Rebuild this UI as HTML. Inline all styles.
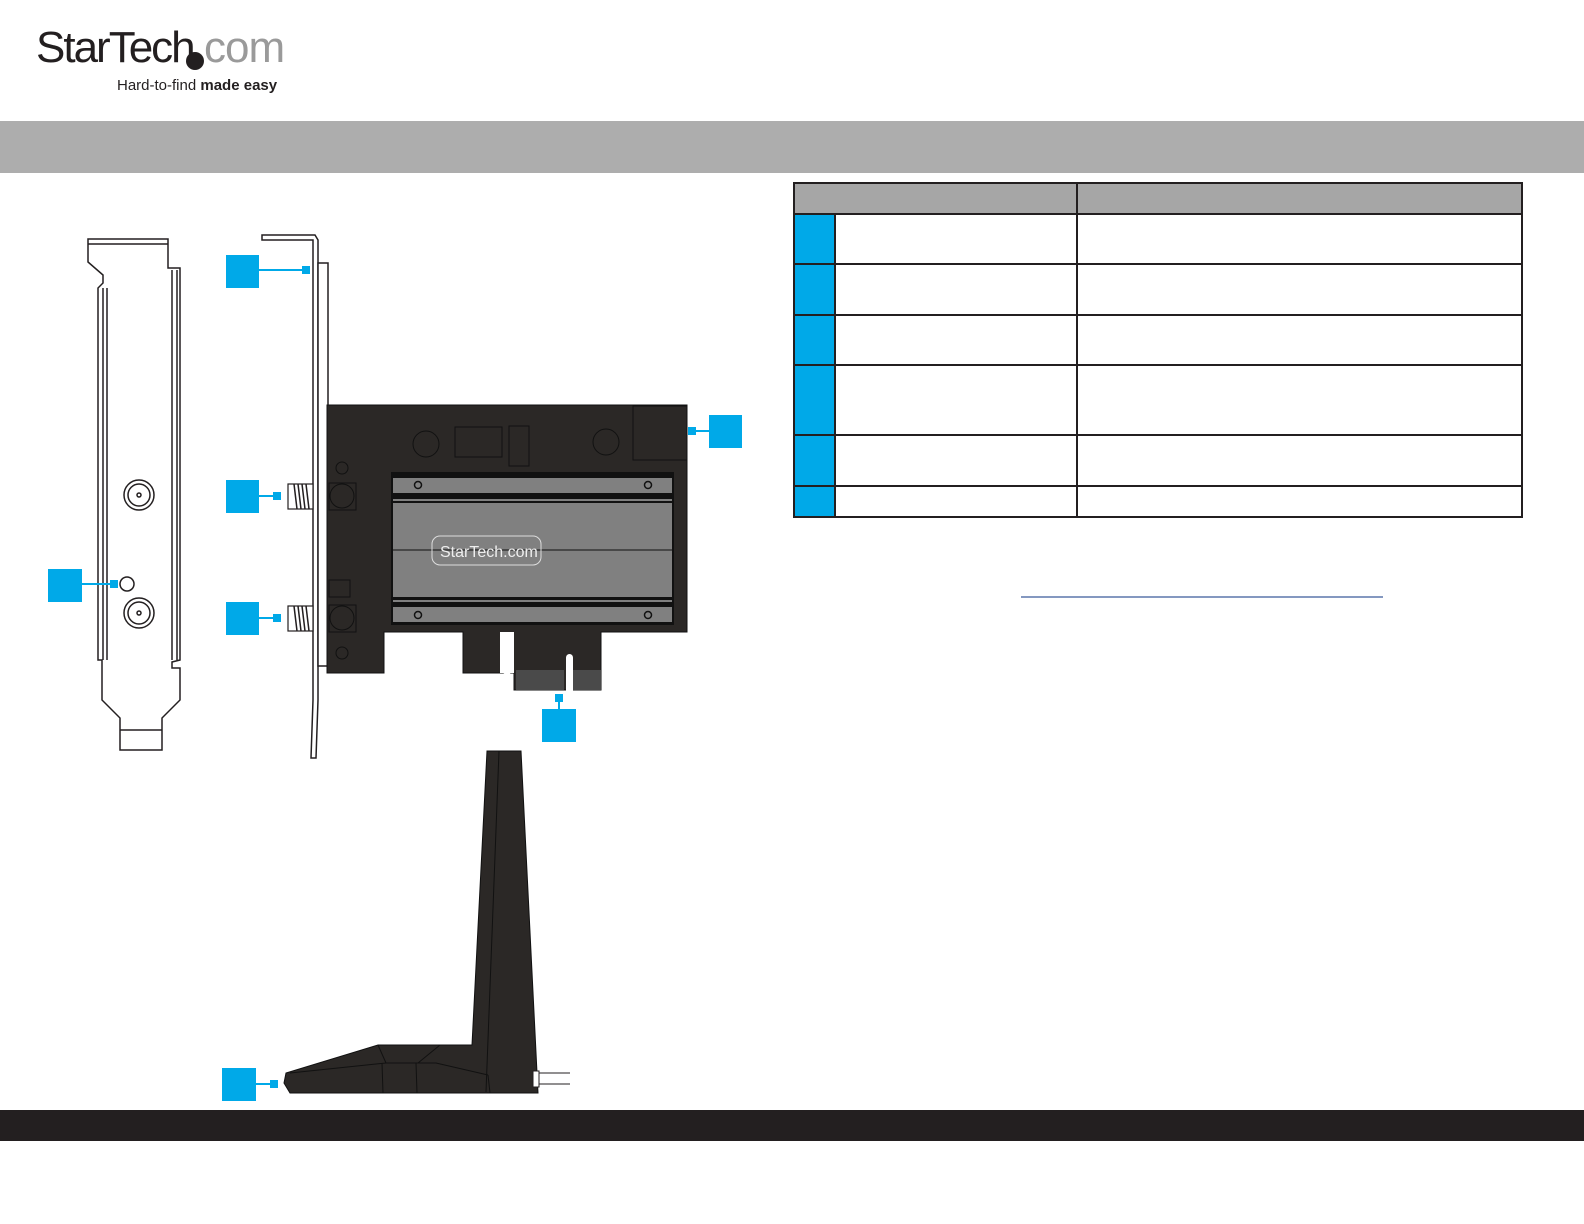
<!DOCTYPE html>
<html><head><style>
html,body{margin:0;padding:0;background:#fff;}
body{width:1584px;height:1224px;position:relative;overflow:hidden;font-family:"Liberation Sans",sans-serif;}
</style></head><body>
<svg width="1584" height="1224" viewBox="0 0 1584 1224" xmlns="http://www.w3.org/2000/svg" style="position:absolute;left:0;top:0">
<!-- logo -->
<text x="36" y="62" font-family="Liberation Sans, sans-serif" font-size="44" fill="#231f20" letter-spacing="-2">StarTech</text>
<circle cx="195" cy="61" r="9" fill="#231f20"/>
<text x="204" y="62" font-family="Liberation Sans, sans-serif" font-size="44" fill="#9a9a9a" letter-spacing="-1">com</text>
<text x="117" y="90" font-family="Liberation Sans, sans-serif" font-size="15" fill="#231f20">Hard-to-find <tspan font-weight="bold">made easy</tspan></text>
<!-- bands -->
<rect x="0" y="121" width="1584" height="52" fill="#adadad"/>
<rect x="0" y="1110" width="1584" height="31" fill="#231f20"/>
<!-- table -->
<rect x="794" y="183" width="728" height="30" fill="#a6a6a6"/>
<rect x="795" y="214" width="40" height="302" fill="#00a9e8"/>
<g stroke="#231f20" stroke-width="2" fill="none">
<rect x="794" y="183" width="728" height="334"/>
<line x1="794" y1="214" x2="1522" y2="214"/>
<line x1="794" y1="264" x2="1522" y2="264"/>
<line x1="794" y1="315" x2="1522" y2="315"/>
<line x1="794" y1="365" x2="1522" y2="365"/>
<line x1="794" y1="435" x2="1522" y2="435"/>
<line x1="794" y1="486" x2="1522" y2="486"/>
<line x1="1077" y1="183" x2="1077" y2="517"/>
<line x1="835" y1="214" x2="835" y2="517"/>
</g>
<line x1="1021" y1="597" x2="1383" y2="597" stroke="#3a5a9a" stroke-width="1.2"/>
<!-- left bracket -->
<g stroke="#231f20" stroke-width="1.5" fill="#fff">
<path d="M88,239 L168,239 L168,268 L180,268 L180,660 L172,662 L172,668 L180,668 L180,700 L162,718 L162,750 L120,750 L120,718 L102,700 L102,660 L98,660 L98,288 L103,283 L103,275 L88,262 Z"/>
<line x1="88" y1="244" x2="168" y2="244"/>
<line x1="103" y1="288" x2="103" y2="660"/>
<line x1="107" y1="288" x2="107" y2="660"/>
<line x1="172" y1="270" x2="172" y2="660"/>
<line x1="177" y1="270" x2="177" y2="660"/>
<line x1="120" y1="730" x2="162" y2="730"/>
<circle cx="139" cy="495" r="15"/><circle cx="139" cy="495" r="11"/><circle cx="139" cy="495" r="2"/>
<circle cx="139" cy="613" r="15"/><circle cx="139" cy="613" r="11"/><circle cx="139" cy="613" r="2"/>
<circle cx="127" cy="584" r="7"/>
</g>
<!-- side bracket -->
<g stroke="#231f20" stroke-width="1.5" fill="#fff">
<path d="M262,235 L315,235 L318,240 L318,700 L316,758 L311,758 L313,700 L313,240 L262,240 Z"/>
<rect x="318" y="263" width="10" height="403"/>
</g>
<!-- card -->
<path d="M327,405 L687,405 L687,632 L601,632 L601,690 L514,690 L514,673 L463,673 L463,632 L384,632 L384,673 L327,673 Z" fill="#2b2826" stroke="#111" stroke-width="1"/>
<path d="M500,632 L500,673 L514,673 L514,632 Z" fill="#fff"/>
<rect x="500" y="632" width="14" height="42" rx="7" fill="#fff"/>
<rect x="566" y="654" width="7" height="40" rx="3.5" fill="#fff"/>
<g stroke="#111" stroke-width="1" fill="none">
<circle cx="426" cy="444" r="13"/><circle cx="606" cy="442" r="13"/>
<rect x="455" y="427" width="47" height="30"/><rect x="509" y="426" width="20" height="40"/>
<rect x="633" y="406" width="54" height="54"/>
<circle cx="342" cy="468" r="6"/><circle cx="342" cy="653" r="6"/>
<rect x="329" y="483" width="27" height="27"/><circle cx="342" cy="496" r="12"/>
<rect x="329" y="605" width="27" height="27"/><circle cx="342" cy="618" r="12"/>
<rect x="329" y="580" width="21" height="17"/>
</g>
<g fill="#4a4a4a"><rect x="516" y="670" width="48" height="20"/><rect x="573" y="670" width="28" height="20"/></g>
<!-- heatsink -->
<rect x="391" y="472" width="283" height="153" fill="#111"/>
<rect x="393" y="478" width="279" height="15" fill="#808080"/>
<rect x="393" y="503" width="279" height="94" fill="#808080"/>
<rect x="393" y="499" width="279" height="2" fill="#808080"/>
<rect x="393" y="607" width="279" height="15" fill="#808080"/>
<rect x="393" y="600" width="279" height="2" fill="#808080"/>
<line x1="393" y1="550" x2="672" y2="550" stroke="#111" stroke-width="1"/>
<g stroke="#111" stroke-width="1.5" fill="none"><circle cx="418" cy="485" r="3.5"/><circle cx="648" cy="485" r="3.5"/><circle cx="418" cy="615" r="3.5"/><circle cx="648" cy="615" r="3.5"/></g>
<rect x="432" y="536" width="109" height="29" rx="8" fill="none" stroke="#ddd" stroke-width="1"/>
<text x="440" y="557" font-family="Liberation Sans, sans-serif" font-size="16" fill="#eee">StarTech.com</text>
<!-- connectors -->
<g stroke="#231f20" stroke-width="1.2" fill="#fff">
<rect x="288" y="484" width="25" height="25"/>
<rect x="288" y="606" width="25" height="25"/>
</g>
<g stroke="#231f20" stroke-width="1.5">
<path d="M294,484 l3,25 M298,484 l3,25 M302,484 l3,25 M306,484 l3,25 M294,606 l3,25 M298,606 l3,25 M302,606 l3,25 M306,606 l3,25"/>
</g>
<!-- antenna -->
<path d="M487,751 L521,751 L538,1093 L290,1093 L284,1083 L286,1073 L378,1045 L472,1045 Z" fill="#2b2826" stroke="#111"/>
<g stroke="#111" stroke-width="1" fill="none">
<path d="M499,751 L486,1092"/>
<path d="M290,1073 L386,1063 L436,1063 L488,1075 M378,1045 L386,1063 M440,1045 L418,1063 M382,1063 L383,1093 M416,1063 L417,1093 M488,1075 L490,1093"/>
</g>
<rect x="533" y="1071" width="6" height="16" fill="#fff" stroke="#231f20"/>
<path d="M539,1073 L570,1073 M539,1084 L570,1084" stroke="#231f20"/>
<!-- callouts -->
<g fill="#00a9e8">
<rect x="48" y="569" width="34" height="33"/><rect x="110" y="580" width="8" height="8"/><rect x="82" y="583" width="30" height="2"/>
<rect x="226" y="255" width="33" height="33"/><rect x="302" y="266" width="8" height="8"/><rect x="259" y="269" width="45" height="2"/>
<rect x="226" y="480" width="33" height="33"/><rect x="273" y="492" width="8" height="8"/><rect x="259" y="495" width="16" height="2"/>
<rect x="226" y="602" width="33" height="33"/><rect x="273" y="614" width="8" height="8"/><rect x="259" y="617" width="16" height="2"/>
<rect x="709" y="415" width="33" height="33"/><rect x="688" y="427" width="8" height="8"/><rect x="694" y="430" width="16" height="2"/>
<rect x="542" y="709" width="34" height="33"/><rect x="555" y="694" width="8" height="8"/><rect x="558" y="700" width="2" height="10"/>
<rect x="222" y="1068" width="34" height="33"/><rect x="270" y="1080" width="8" height="8"/><rect x="256" y="1083" width="16" height="2"/>
</g>
</svg>
</body></html>
